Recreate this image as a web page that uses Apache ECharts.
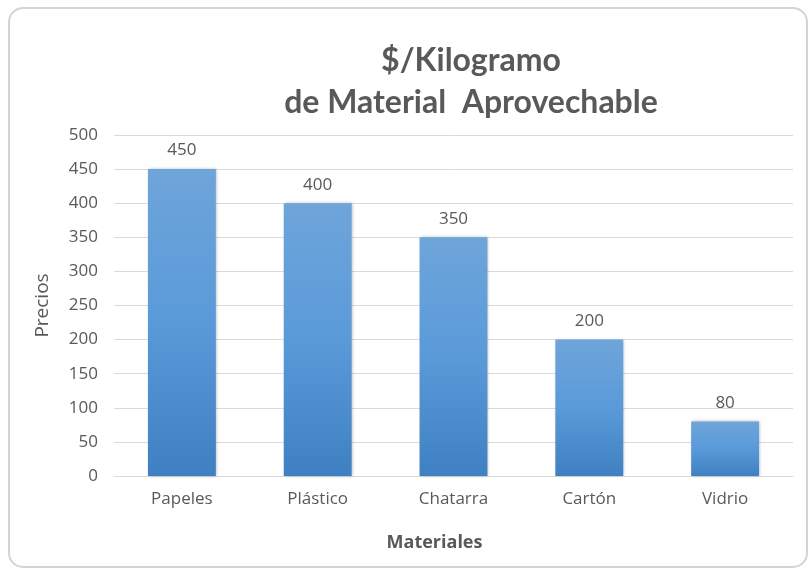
<!DOCTYPE html>
<html>
<head>
<meta charset="utf-8">
<script src="https://cdn.jsdelivr.net/npm/echarts@6/dist/echarts.min.js"></script>
<style>html,body{margin:0;padding:0;background:#fff;}#c{width:808px;height:569px;}</style>
</head>
<body>
<div id="c"></div>
<script>
const categories = ['Papeles', 'Plástico', 'Chatarra', 'Cartón', 'Vidrio'];
const precios = [450, 400, 350, 200, 80];
const yTicks = [0, 50, 100, 150, 200, 250, 300, 350, 400, 450, 500];

const chart = echarts.init(document.getElementById('c'), null, {renderer: 'canvas'});
const txt = '#595959';
const F = 'Open Sans';
chart.setOption({
  animation: false,
  backgroundColor: '#ffffff',
  graphic: [{
    type: 'rect', left: 8, top: 7, z: -1,
    shape: {width: 798, height: 559, r: 14},
    style: {fill: '#fff', stroke: '#d4d4d4', lineWidth: 2}
  }],
  title: {
    text: '$/Kilogramo\nde Material  Aprovechable',
    left: 466, top: 35, textAlign: 'center',
    textStyle: {fontFamily: 'Lato', fontWeight: 'bold', fontSize: 32, color: txt, lineHeight: 42}
  },
  grid: {left: 114, right: 15, top: 135, bottom: 93},
  xAxis: {
    type: 'category', data: categories,
    name: 'Materiales', nameLocation: 'middle', nameGap: 58,
    nameTextStyle: {fontFamily: F, fontWeight: 'bold', fontSize: 18, color: txt, padding: [0, 38, 0, 0]},
    axisLine: {show: true, lineStyle: {color: '#d9d9d9', width: 1}},
    axisTick: {show: false},
    axisLabel: {fontFamily: F, fontSize: 17, color: txt, margin: 15}
  },
  yAxis: {
    type: 'value', min: 0, max: 500, interval: 50,
    name: 'Precios', nameLocation: 'middle', nameGap: 62, nameRotate: 90,
    nameTextStyle: {fontFamily: F, fontSize: 19, color: txt},
    axisLine: {show: false}, axisTick: {show: false},
    axisLabel: {fontFamily: F, fontSize: 17, color: txt, margin: 16,
      formatter: v => yTicks.includes(v) ? String(v) : ''},
    splitLine: {lineStyle: {color: '#d9d9d9', width: 1}}
  },
  series: [{
    type: 'bar', data: precios, barWidth: '50%',
    itemStyle: {
      color: new echarts.graphic.LinearGradient(0, 0, 0, 1, [
        {offset: 0, color: '#6ea5da'},
        {offset: 0.5, color: '#5a9ad9'},
        {offset: 1, color: '#3f80c2'}
      ]),
      shadowColor: 'rgba(0,0,0,0.25)', shadowBlur: 3, shadowOffsetX: 1, shadowOffsetY: 0
    },
    label: {show: true, position: 'top', distance: 10, fontFamily: F, fontSize: 17, color: txt}
  }]
});
</script>
</body>
</html>
